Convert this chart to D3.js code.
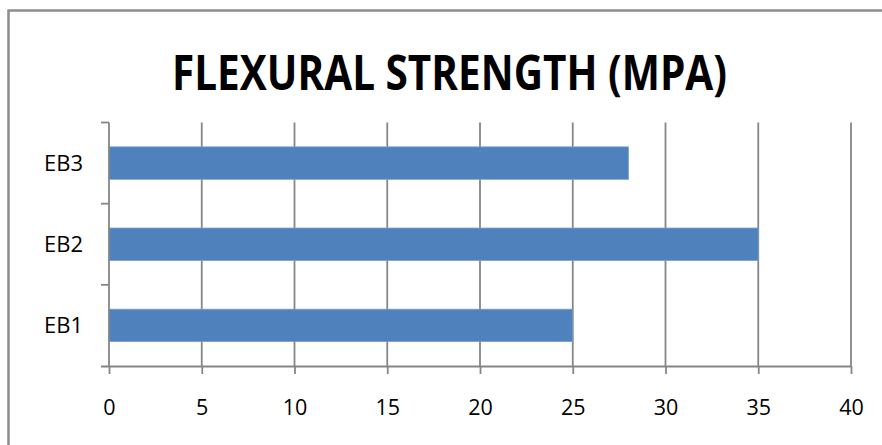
<!DOCTYPE html>
<html>
<head>
<meta charset="utf-8">
<script src="https://cdn.jsdelivr.net/npm/d3@7"></script>
<style>
  html, body { margin: 0; padding: 0; background: #fff; }
  svg { display: block; }
  text { font-family: "Open Sans", "DejaVu Sans", sans-serif; fill: #000; }
</style>
</head>
<body>
<svg id="chart" width="882" height="445"></svg>
<script>
// Flexural strength per mix, in MPa
const categories = ["EB1", "EB2", "EB3"];
const values = [25, 35, 28];
const xTicks = [0, 5, 10, 15, 20, 25, 30, 35, 40];
const title = "FLEXURAL STRENGTH (MPA)";

const svg = d3.select("#chart");
const W = 882, H = 445;
const plot = { left: 109, right: 851, top: 122.5, bottom: 366 };
const gridColor = "#868686";
const lineW = 1.8;

// Outer chart frame
svg.append("rect")
  .attr("x", 8.5).attr("y", 10.5)
  .attr("width", W + 20).attr("height", H + 20)
  .attr("fill", "#fff")
  .attr("stroke", "#8c8c8c").attr("stroke-width", 2.5);

// Title
svg.append("text")
  .attr("x", 449.5).attr("y", 90)
  .attr("text-anchor", "middle")
  .attr("font-size", 48).attr("font-weight", 700)
  .attr("textLength", 555).attr("lengthAdjust", "spacingAndGlyphs")
  .text(title);

const x = d3.scaleLinear().domain([0, 40]).range([plot.left, plot.right]);
const y = d3.scaleBand().domain(categories.slice().reverse())
  .range([plot.top, plot.bottom]).paddingInner(0.6).paddingOuter(0.3);
const yEdges = d3.scaleBand().domain(categories.slice().reverse())
  .range([plot.top, plot.bottom]);

// Vertical gridlines
svg.append("g").selectAll("line")
  .data(xTicks.filter(d => d > 0))
  .join("line")
  .attr("x1", d => x(d)).attr("x2", d => x(d))
  .attr("y1", plot.top).attr("y2", plot.bottom)
  .attr("stroke", gridColor).attr("stroke-width", lineW);

// Bars
svg.append("g").selectAll("rect")
  .data(categories.map((c, i) => ({ c, v: values[i] })))
  .join("rect")
  .attr("x", x(0))
  .attr("y", d => y(d.c))
  .attr("width", d => x(d.v) - x(0))
  .attr("height", y.bandwidth())
  .attr("fill", "#4f81bd")
  .attr("stroke", "#7a9fd1").attr("stroke-width", 0.8);

// X axis
const xAxis = svg.append("g")
  .attr("transform", `translate(0,${plot.bottom})`)
  .call(d3.axisBottom(x).tickValues(xTicks).tickSize(8).tickPadding(26).tickSizeOuter(0));
xAxis.select(".domain").attr("stroke", gridColor).attr("stroke-width", lineW)
  .attr("d", `M${plot.left - 8},0.5H${plot.right}`);
xAxis.selectAll(".tick line").attr("stroke", gridColor).attr("stroke-width", lineW);
xAxis.selectAll(".tick text").attr("font-size", 21.5).attr("font-family", "Open Sans, sans-serif").attr("fill", "#000");

// Y axis: tick marks at band boundaries, labels at band centers
const yAxis = svg.append("g");
yAxis.append("line")
  .attr("x1", plot.left).attr("x2", plot.left)
  .attr("y1", plot.top).attr("y2", plot.bottom)
  .attr("stroke", gridColor).attr("stroke-width", lineW);
const edges = categories.slice().reverse().map(c => yEdges(c));
yAxis.selectAll("line.edge")
  .data(edges)
  .join("line").attr("class", "edge")
  .attr("x1", plot.left - 8).attr("x2", plot.left)
  .attr("y1", d => d).attr("y2", d => d)
  .attr("stroke", gridColor).attr("stroke-width", lineW);
yAxis.selectAll("text")
  .data(categories)
  .join("text")
  .attr("x", 83)
  .attr("y", d => yEdges(d) + yEdges.bandwidth() / 2)
  .attr("dy", "0.35em")
  .attr("text-anchor", "end")
  .attr("font-size", 22)
  .text(d => d);
</script>
</body>
</html>
